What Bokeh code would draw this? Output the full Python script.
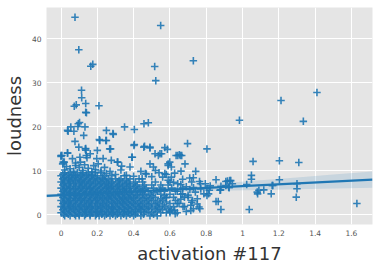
import numpy as np
from bokeh.plotting import figure
from bokeh.models import ColumnDataSource, FixedTicker, Band
from bokeh.embed import file_html
from bokeh.resources import INLINE

# ---- dense core: rows of loudness values with the activations seen at that level ----
core_row_y = [-0.2, 0.5, 1.2, 1.9, 2.6, 3.3, 4.0, 4.7, 5.4, 6.1, 6.8, 7.5, 8.2, 8.9, 9.6]
core_row_x = [
    [0.02, 0.05, 0.08, 0.1, 0.13, 0.16, 0.19, 0.21, 0.24, 0.27, 0.3, 0.33, 0.36, 0.4, 0.44, 0.49, 0.53],
    [0.0, 0.03, 0.06, 0.09, 0.12, 0.14, 0.17, 0.2, 0.23, 0.26, 0.28, 0.31, 0.34, 0.37, 0.39, 0.42, 0.46, 0.5, 0.55, 0.58, 0.64],
    [0.01, 0.04, 0.07, 0.1, 0.13, 0.15, 0.18, 0.21, 0.24, 0.27, 0.29, 0.32, 0.35, 0.38, 0.41, 0.44, 0.47, 0.52, 0.56, 0.61],
    [0.0, 0.02, 0.05, 0.08, 0.11, 0.14, 0.16, 0.19, 0.22, 0.25, 0.28, 0.3, 0.33, 0.36, 0.39, 0.43, 0.45, 0.49, 0.53, 0.57, 0.62, 0.68],
    [0.01, 0.04, 0.06, 0.09, 0.12, 0.15, 0.17, 0.2, 0.23, 0.26, 0.29, 0.31, 0.34, 0.37, 0.4, 0.42, 0.46, 0.5, 0.54, 0.6, 0.65],
    [0.0, 0.03, 0.05, 0.08, 0.11, 0.13, 0.16, 0.19, 0.22, 0.24, 0.27, 0.3, 0.33, 0.35, 0.38, 0.41, 0.44, 0.48, 0.51, 0.56, 0.63],
    [0.01, 0.04, 0.07, 0.09, 0.12, 0.15, 0.18, 0.2, 0.23, 0.26, 0.28, 0.31, 0.34, 0.37, 0.4, 0.43, 0.47, 0.52, 0.58, 0.62, 0.7],
    [0.0, 0.02, 0.05, 0.08, 0.1, 0.13, 0.16, 0.19, 0.21, 0.24, 0.27, 0.3, 0.32, 0.35, 0.38, 0.42, 0.45, 0.49, 0.55, 0.6, 0.66],
    [0.01, 0.03, 0.06, 0.09, 0.12, 0.14, 0.17, 0.2, 0.23, 0.25, 0.28, 0.31, 0.34, 0.36, 0.39, 0.44, 0.48, 0.53, 0.57, 0.64],
    [0.0, 0.03, 0.05, 0.08, 0.11, 0.14, 0.16, 0.19, 0.22, 0.25, 0.27, 0.3, 0.33, 0.36, 0.4, 0.43, 0.47, 0.51, 0.56, 0.61, 0.67],
    [0.01, 0.04, 0.07, 0.1, 0.12, 0.15, 0.18, 0.21, 0.24, 0.26, 0.29, 0.32, 0.35, 0.38, 0.42, 0.46, 0.5, 0.55, 0.59],
    [0.0, 0.02, 0.05, 0.08, 0.11, 0.13, 0.16, 0.19, 0.22, 0.25, 0.28, 0.31, 0.34, 0.37, 0.41, 0.45, 0.52, 0.6, 0.72],
    [0.01, 0.04, 0.06, 0.09, 0.12, 0.15, 0.18, 0.2, 0.23, 0.26, 0.3, 0.33, 0.38, 0.43],
    [0.0, 0.03, 0.06, 0.08, 0.11, 0.14, 0.17, 0.2, 0.24, 0.28, 0.35],
    [0.02, 0.05, 0.09, 0.12, 0.15, 0.19, 0.22],
]
# in-between levels of the dense core
mid_row_y = [0.15, 0.85, 1.55, 2.25, 2.95, 3.65, 4.35, 5.05, 5.75, 6.45, 7.15, 7.85, 8.55, 9.25]
mid_row_x = [
    [0.015, 0.04, 0.075, 0.1, 0.135, 0.16, 0.195, 0.225, 0.25, 0.285, 0.31, 0.345, 0.38, 0.41, 0.455, 0.51],
    [0.02, 0.05, 0.08, 0.11, 0.14, 0.17, 0.2, 0.22, 0.25, 0.29, 0.32, 0.35, 0.37, 0.41, 0.44, 0.48, 0.53, 0.6],
    [0.015, 0.045, 0.07, 0.1, 0.13, 0.16, 0.19, 0.22, 0.26, 0.28, 0.31, 0.34, 0.37, 0.4, 0.43, 0.46, 0.5, 0.54, 0.59],
    [0.02, 0.05, 0.08, 0.11, 0.14, 0.17, 0.2, 0.23, 0.25, 0.28, 0.32, 0.35, 0.38, 0.41, 0.44, 0.48, 0.52, 0.56],
    [0.015, 0.04, 0.07, 0.1, 0.13, 0.16, 0.19, 0.21, 0.25, 0.28, 0.31, 0.34, 0.36, 0.39, 0.43, 0.47, 0.53, 0.58],
    [0.02, 0.05, 0.08, 0.11, 0.14, 0.17, 0.2, 0.23, 0.26, 0.29, 0.32, 0.34, 0.37, 0.4, 0.45, 0.49, 0.55],
    [0.015, 0.045, 0.075, 0.1, 0.13, 0.16, 0.19, 0.22, 0.25, 0.27, 0.3, 0.33, 0.36, 0.39, 0.42, 0.46, 0.5, 0.57],
    [0.02, 0.05, 0.07, 0.11, 0.14, 0.17, 0.2, 0.22, 0.26, 0.29, 0.32, 0.35, 0.38, 0.41, 0.45, 0.51],
    [0.015, 0.04, 0.08, 0.1, 0.13, 0.16, 0.18, 0.21, 0.24, 0.27, 0.31, 0.34, 0.37, 0.42, 0.46, 0.54],
    [0.02, 0.05, 0.08, 0.11, 0.14, 0.17, 0.2, 0.23, 0.26, 0.28, 0.31, 0.34, 0.38, 0.41, 0.45],
    [0.015, 0.045, 0.07, 0.1, 0.13, 0.16, 0.19, 0.22, 0.25, 0.28, 0.32, 0.36, 0.4],
    [0.02, 0.05, 0.08, 0.11, 0.14, 0.17, 0.21, 0.24, 0.27, 0.32, 0.36],
    [0.015, 0.045, 0.08, 0.1, 0.13, 0.16, 0.19, 0.23],
    [0.01, 0.04, 0.07, 0.11, 0.14, 0.17],
]

# ---- individually read points (activation, loudness) ----
pts_x = [
    0.077, 0.098, 0.164, 0.175, 0.549, 0.516, 0.522, 0.729,
    0.113, 0.114, 0.073, 0.084, 0.136, 0.136, 0.14, 0.209,
    0.036, 0.054, 0.071, 0.095, 0.102, 0.093, 0.132, 0.25, 0.286, 0.35, 0.404, 0.457, 0.481,
    0.983, 1.212, 1.335, 1.41,
    0.039, 0.125, 0.077, 0.098, 0.136, 0.136, 0.036, 0.005, 0.012, 0.2, 0.288, 0.211, 0.247,
    0.273, 0.404, 0.456, 0.49, 0.39, 0.31, 0.334, 0.232, 0.277,
    0.697, 0.804, 0.634, 0.652, 0.665, 0.572, 0.586, 0.545, 0.683, 0.599, 0.59, 1.058, 1.049,
    1.049, 0.742, 0.661, 0.626, 0.58, 0.709, 0.729, 0.763, 0.795, 0.822, 0.854, 0.908, 0.929,
    0.879, 0.926, 0.854, 0.866, 0.881, 1.037, 1.023, 1.081, 1.09, 1.117, 1.158, 0.817, 0.804,
    0.787, 0.768, 0.751, 0.76, 0.765, 0.715, 0.729, 0.672, 0.629,
    1.203, 1.31, 1.203, 1.30, 1.30, 1.296, 1.63, 1.163, 0.935, 0.917, 0.908, 0.924, 0.876,
    0.881, 0.813, 0.804, 0.944, 1.083, 1.167,
    0.0, 0.0, 0.036, 0.009, 0.018, 0.063, 0.08, 0.104, 0.107, 0.134, 0.139, 0.143, 0.161,
    0.197, 0.205, 0.268, 0.214, 0.25, 0.313, 0.393, 0.402, 0.46, 0.49, 0.518, 0.536, 0.554,
    0.49, 0.509, 0.59, 0.608, 0.643, 0.658, 0.465, 0.447, 0.572, 0.608, 0.643, 0.67, 0.68,
    0.724, 0.715, 0.626,
    0.02, 0.05, 0.07, 0.1, 0.12, 0.15, 0.17, 0.19, 0.22, 0.25, 0.27, 0.03, 0.08, 0.13, 0.18,
    0.24, 0.3, 0.33, 0.36, 0.4, 0.44, 0.38,
    0.56, 0.59, 0.62, 0.66, 0.69, 0.71, 0.74, 0.7, 0.66, 0.72, 0.75, 0.69, 0.6, 0.64, 0.58,
    0.73, 0.77, 0.63, 0.67, 0.54, 0.5, 0.47, 0.52,
]
pts_y = [
    44.9, 37.5, 33.75, 34.2, 43.0, 33.7, 30.5, 35.0,
    28.3, 26.6, 24.7, 25.0, 25.3, 23.3, 23.2, 24.8,
    19.2, 20.0, 19.0, 20.7, 21.0, 20.1, 20.0, 19.2, 18.5, 20.0, 19.4, 20.7, 20.95,
    21.5, 26.0, 21.25, 27.8,
    19.0, 18.07, 16.7, 15.4, 15.1, 14.7, 14.1, 13.5, 12.0, 14.66, 18.3, 17.1, 16.9,
    15.0, 16.0, 15.4, 15.2, 13.1, 12.0, 11.1, 12.8, 12.4,
    16.2, 15.0, 13.5, 13.7, 13.5, 15.3, 14.9, 13.9, 11.6, 12.0, 11.25, 12.16, 9.0,
    8.1, 9.9, 9.95, 9.5, 9.2, 8.4, 8.45, 7.6, 7.1, 6.6, 8.0, 7.6, 7.8,
    5.7, 6.2, 3.07, 3.07, 1.25, 1.25, 6.9, 5.2, 5.6, 5.7, 4.8, 5.6, 4.4,
    4.8, 7.1, 3.7, 1.8, 1.4, 2.2, 1.4, 1.9, 0.3,
    12.3, 11.9, 8.0, 7.1, 5.95, 4.05, 2.6, 6.7, 7.8, 7.7, 6.7, 6.3, 5.6,
    6.5, 4.8, 6.0, 7.1, 4.8, 6.7,
    13.5, 13.3, 14.0, 11.6, 12.0, 12.8, 11.25, 13.1, 12.0, 15.0, 13.5, 13.0, 13.9,
    12.8, 11.6, 15.0, 16.9, 16.9, 12.0, 13.1, 15.8, 15.6, 15.4, 13.9, 13.5, 13.9,
    11.6, 10.9, 11.6, 10.9, 13.5, 13.5, 9.4, 8.2, 9.4, 8.6, 7.1, 4.8, 4.05,
    3.3, 1.0, 1.0,
    10.2, 10.5, 9.9, 10.8, 10.1, 10.6, 9.8, 10.3, 10.0, 9.4, 9.9, 11.0, 11.8, 11.4, 11.2,
    10.8, 9.2, 10.2, 9.0, 8.8, 9.9, 10.9,
    8.6, 7.9, 7.4, 6.9, 6.4, 5.8, 5.2, 4.5, 3.6, 2.9, 2.5, 0.8, 0.5, 2.6, 3.9,
    6.2, 5.9, 5.4, 8.1, 9.6, 8.7, 9.3, 10.1,
]

# ---- regression fit and its confidence band ----
fit_intercept = 4.52
fit_slope = 2.05
band_x = [-0.08, 0.05, 0.2, 0.35, 0.5, 0.7, 0.94, 1.1, 1.3, 1.5, 1.716]
band_half = [0.38, 0.22, 0.15, 0.22, 0.37, 0.6, 0.9, 1.1, 1.35, 1.6, 1.85]

x_ticks = [0.0, 0.2, 0.4, 0.6, 0.8, 1.0, 1.2, 1.4, 1.6]
y_ticks = [0, 10, 20, 30, 40]
x_label = "activation #117"
y_label = "loudness"

# flatten
all_x = ([x for row in core_row_x for x in row] + [x for row in mid_row_x for x in row] + pts_x)
all_y = ([y for y, row in zip(core_row_y, core_row_x) for _ in row]
         + [y for y, row in zip(mid_row_y, mid_row_x) for _ in row] + pts_y)

XMIN, XMAX = -0.08, 1.716
p = figure(width=378, height=268, x_range=(XMIN, XMAX), y_range=(-2.16, 47.1),
           output_backend="svg", toolbar_location=None,
           min_border_left=37, min_border_right=6, min_border_top=7, min_border_bottom=44)
p.background_fill_color = "#E5E5E5"
p.border_fill_color = "white"
p.outline_line_color = None

C = "#1f77b4"
bx = np.array(band_x)
fy = fit_intercept + fit_slope * bx
bsrc = ColumnDataSource(dict(x=bx, lo=fy - np.array(band_half), hi=fy + np.array(band_half)))
p.add_layout(Band(base="x", lower="lo", upper="hi", source=bsrc, fill_color=C, fill_alpha=0.15,
                  line_color=None, level="underlay"))

p.scatter(all_x, all_y, marker="cross", size=7.5, line_color=C, line_width=1.6, line_alpha=0.9)

lx = np.array([XMIN, XMAX])
p.line(lx, fit_intercept + fit_slope * lx, line_color=C, line_width=2.2)

p.xaxis.ticker = FixedTicker(ticks=x_ticks)
p.yaxis.ticker = FixedTicker(ticks=y_ticks)
p.xaxis.axis_label = x_label
p.yaxis.axis_label = y_label
for ax in (p.xaxis, p.yaxis):
    ax.axis_line_color = None
    ax.major_tick_line_color = None
    ax.minor_tick_line_color = None
    ax.major_tick_out = 0
    ax.major_tick_in = 0
    ax.minor_tick_out = 0
    ax.minor_tick_in = 0
    ax.major_label_text_font = "DejaVu Sans"
    ax.major_label_text_font_size = "7.5px"
    ax.major_label_text_color = "#555555"
    ax.axis_label_text_font = "DejaVu Sans"
    ax.axis_label_text_font_size = "18px"
    ax.axis_label_text_font_style = "normal"
    ax.axis_label_text_color = "#333333"
    ax.major_label_standoff = 5
    ax.axis_label_standoff = 4
p.xgrid.grid_line_color = "white"
p.ygrid.grid_line_color = "white"
p.xgrid.grid_line_width = 1
p.ygrid.grid_line_width = 1

open("out.html", "w").write(file_html(p, INLINE))
